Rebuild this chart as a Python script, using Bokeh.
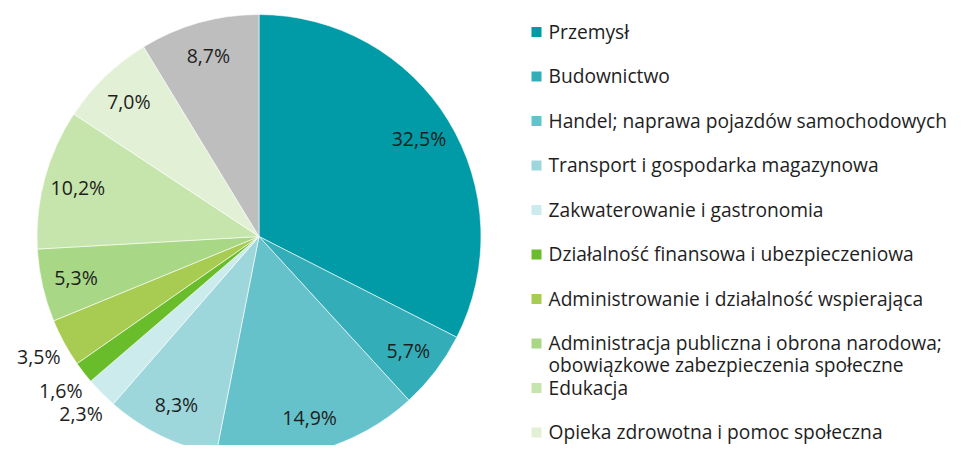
import math
from bokeh.plotting import figure
from bokeh.models import Range1d, ColumnDataSource
from bokeh.core.properties import value
from bokeh.embed import file_html
from bokeh.resources import INLINE

# ---- data ----
categories = [
    "Przemysł",
    "Budownictwo",
    "Handel; naprawa pojazdów samochodowych",
    "Transport i gospodarka magazynowa",
    "Zakwaterowanie i gastronomia",
    "Działalność finansowa i ubezpieczeniowa",
    "Administrowanie i działalność wspierająca",
    "Administracja publiczna i obrona narodowa;\nobowiązkowe zabezpieczenia społeczne",
    "Edukacja",
    "Opieka zdrowotna i pomoc społeczna",
    "Pozostałe",
]
shares = [32.5, 5.7, 14.9, 8.3, 2.3, 1.6, 3.5, 5.3, 10.2, 7.0, 8.7]
colors = ["#009ba6", "#33aeb8", "#66c2ca", "#9dd7db", "#cbebed", "#6abd2a",
          "#a8cb52", "#a8d886", "#c6e5ac", "#e2f1d5", "#bebebe"]
legend_count = 10  # visible legend entries

FONT = "Open Sans"
TXT = "#1e1e1e"

W, H = 954, 445
p = figure(width=W, height=H, x_range=Range1d(0, W), y_range=Range1d(0, H),
           output_backend="svg", toolbar_location=None, min_border=0)
p.axis.visible = False
p.grid.visible = False
p.outline_line_color = None
p.background_fill_color = "white"
p.border_fill_color = "white"

def px(x):
    return x

def py(y):
    return H - y

cx, cy, R = px(258.5), py(236), 222

total = sum(shares)
starts, ends, lx, ly, labs = [], [], [], [], []
cum = 0.0
for s in shares:
    a0 = math.pi / 2 - 2 * math.pi * cum / total
    a1 = math.pi / 2 - 2 * math.pi * (cum + s) / total
    starts.append(a0)
    ends.append(a1)
    mid = math.pi / 2 - 2 * math.pi * (cum + s / 2) / total
    r = R * (1.13 if s < 4 else 0.845)
    lx.append(cx + r * math.cos(mid))
    ly.append(cy + r * math.sin(mid))
    labs.append(("%.1f%%" % s).replace(".", ","))
    cum += s

src = ColumnDataSource(dict(start=starts, end=ends, color=colors))
p.wedge(x=cx, y=cy, radius=R, start_angle="start", end_angle="end",
        direction="clock", fill_color="color", line_color="white",
        line_width=0.6, source=src)

p.text(x=lx, y=ly, text=labs, text_font=value(FONT), text_font_size="19.5px",
       text_color=TXT, text_align="center", text_baseline="middle")

# ---- legend ----
sq_x, sq_y, tx, ty = [], [], [], []
ttext = []
y0, step = 30.5, 44.5
for i in range(legend_count):
    yc = y0 + i * step
    sq_x.append(px(536))
    sq_y.append(py(yc + 1))
    for j, line in enumerate(categories[i].split("\n")):
        tx.append(px(548))
        ty.append(py(yc + j * 22))
        ttext.append(line)

p.scatter(x=sq_x, y=sq_y, marker="square", size=10, color=colors[:legend_count],
          line_color=None)
p.text(x=tx, y=ty, text=ttext, text_font=value(FONT), text_font_size="19.2px",
       text_color=TXT, text_align="left", text_baseline="middle")

open("out.html", "w").write(file_html(p, INLINE))
